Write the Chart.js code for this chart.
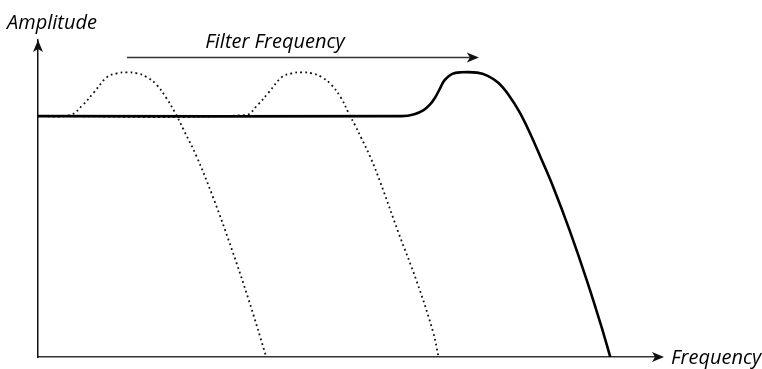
<!DOCTYPE html>
<html>
<head>
<meta charset="utf-8">
<script src="https://cdn.jsdelivr.net/npm/chart.js@4"></script>
<style>
  html, body { margin: 0; padding: 0; background: #fff; }
  canvas { display: block; }
</style>
</head>
<body>
<canvas id="grafico" width="762" height="369"></canvas>
<script>
// respuesta del filtro (unidades arbitrarias: frecuencia 0-100, amplitud 0-100)
const filtroX = [0, 58.5, 60.5, 62.0, 63.0, 63.8, 64.6, 65.4, 66.6, 68.0, 70.6, 72.3, 74.0, 75.7, 77.4, 79.1, 80.8, 82.8, 85.5, 88.3, 90.8, 92.0];
const filtroY = [76, 76, 76.6, 77.9, 79.6, 81.7, 84.6, 87.4, 89.3, 89.8, 89.7, 88.7, 86.5, 82.6, 77.3, 70.6, 63.0, 53.8, 39.8, 23.8, 8.2, 0];

const corte1X = [0, 5.1, 7.2, 9.0, 11.1, 12.7, 14.3, 15.9, 17.5, 19.1, 20.6, 22.0, 23.5, 25.4, 28.2, 31.1, 33.8, 36.7];
const corte1Y = [76, 76.3, 79.5, 83.5, 88.3, 89.5, 89.8, 89.5, 88.3, 85.8, 81.8, 77.2, 71.3, 63.7, 50.1, 34.3, 18.5, 0];

const corte2X = [0, 33.3, 35.3, 37.1, 39.2, 40.8, 42.4, 44.0, 45.6, 47.2, 48.7, 50.0, 51.0, 52.0, 53.4, 55.0, 57.9, 60.9, 63.5, 64.4];
const corte2Y = [76, 76.3, 79.5, 83.5, 88.3, 89.5, 89.8, 89.5, 88.3, 85.8, 81.8, 76.7, 73.0, 69.0, 63.2, 55.3, 39.5, 23.8, 8.0, 0];

// flecha "Filter Frequency": del pico del primer corte al pico del filtro
const flechaDesde = 14.3;
const flechaHasta = 70.4;
const flechaY = 94.5;

const etiquetas = {
    amplitud: 'Amplitude',
    frecuencia: 'Frequency',
    filtro: 'Filter Frequency'
};

const fuente = 'italic 20px "Open Sans", sans-serif';

function puntos(xs, ys) {
    return xs.map((x, i) => ({ x: x, y: ys[i] }));
}

function punta(ctx, x, y, dir) {
    // dir: 'up' | 'right'
    ctx.beginPath();
    if (dir === 'up') {
        ctx.moveTo(x, y);
        ctx.lineTo(x - 5, y + 12);
        ctx.lineTo(x, y + 9);
        ctx.lineTo(x + 5, y + 12);
    } else {
        ctx.moveTo(x, y);
        ctx.lineTo(x - 12, y - 5);
        ctx.lineTo(x - 9, y);
        ctx.lineTo(x - 12, y + 5);
    }
    ctx.closePath();
    ctx.fill();
}

const decorado = {
    id: 'decorado',
    afterDraw(chart) {
        const ctx = chart.ctx;
        const area = chart.chartArea;
        const sx = chart.scales.x;
        const sy = chart.scales.y;
        ctx.save();

        // puntas de los ejes
        ctx.fillStyle = '#111';
        punta(ctx, area.left, area.top, 'up');
        ctx.strokeStyle = '#333';
        ctx.lineWidth = 1.5;
        ctx.beginPath();
        ctx.moveTo(area.right - 4, area.bottom);
        ctx.lineTo(area.right + 2, area.bottom);
        ctx.stroke();
        punta(ctx, area.right + 4, area.bottom, 'right');

        // flecha de frecuencia de corte
        const yf = sy.getPixelForValue(flechaY);
        const x0 = sx.getPixelForValue(flechaDesde);
        const x1 = sx.getPixelForValue(flechaHasta);
        ctx.strokeStyle = '#333';
        ctx.lineWidth = 1.5;
        ctx.beginPath();
        ctx.moveTo(x0, yf);
        ctx.lineTo(x1 - 6, yf);
        ctx.stroke();
        punta(ctx, x1 + 3, yf, 'right');

        // textos
        ctx.fillStyle = '#000';
        ctx.font = fuente;
        ctx.textBaseline = 'alphabetic';
        ctx.textAlign = 'left';
        ctx.fillText(etiquetas.amplitud, 7, 29);
        ctx.textAlign = 'center';
        ctx.fillText(etiquetas.filtro, 275, 48);
        ctx.textAlign = 'left';
        ctx.fillText(etiquetas.frecuencia, area.right + 11, area.bottom + 7);

        ctx.restore();
    }
};

const ctxGrafico = document.getElementById('grafico').getContext('2d');

const trazoCorte = {
    borderColor: '#111',
    borderWidth: 1.8,
    borderDash: [1.8, 3.2],
    pointRadius: 0,
    tension: 0.4,
    fill: false
};

new Chart(ctxGrafico, {
    type: 'line',
    data: {
        datasets: [
            {
                label: 'Filtro',
                data: puntos(filtroX, filtroY),
                borderColor: '#000',
                borderWidth: 2.6,
                pointRadius: 0,
                tension: 0.4,
                fill: false,
                order: 0
            },
            Object.assign({ label: 'Corte 1', data: puntos(corte1X, corte1Y), order: 1 }, trazoCorte),
            Object.assign({ label: 'Corte 2', data: puntos(corte2X, corte2Y), order: 2 }, trazoCorte)
        ]
    },
    options: {
        responsive: false,
        animation: false,
        layout: {
            padding: { left: 38, right: 102, top: 40, bottom: 12 }
        },
        scales: {
            x: {
                type: 'linear',
                min: 0,
                max: 100,
                grid: { display: false, drawTicks: false, tickLength: 0 },
                ticks: { display: false },
                border: { display: true, color: '#333', width: 1.5 }
            },
            y: {
                type: 'linear',
                min: 0,
                max: 100,
                grid: { display: false, drawTicks: false, tickLength: 0 },
                ticks: { display: false },
                border: { display: true, color: '#111', width: 1.5 }
            }
        },
        plugins: {
            legend: { display: false },
            tooltip: { enabled: false },
            title: { display: false }
        }
    },
    plugins: [decorado]
});
</script>
</body>
</html>
